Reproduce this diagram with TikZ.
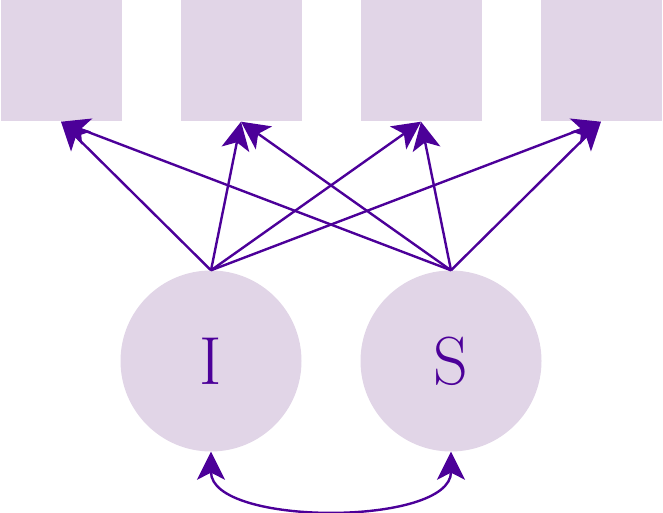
\documentclass[tikz,border=0pt]{standalone}
\usepackage{xcolor}
\usepackage{tikz}
\usetikzlibrary{arrows.meta}

\definecolor{lilac}{HTML}{E1D5E7}
\definecolor{deeppurple}{HTML}{4C0099}

\begin{document}
\begin{tikzpicture}[
    x=1pt, y=1pt,
    box/.style={fill=lilac, draw=none, inner sep=0pt,
                minimum width=121pt, minimum height=121pt},
    latent/.style={circle, fill=lilac, draw=none, inner sep=0pt,
                   minimum size=181pt, text=deeppurple,
                   font=\fontsize{68}{68}\selectfont},
    arr/.style={-{Stealth[length=28pt, width=28pt, inset=7pt]},
                line width=2.4pt, draw=deeppurple},
    covarr/.style={{Stealth[length=28pt, width=28pt, inset=7pt]}-{Stealth[length=28pt, width=28pt, inset=7pt]},
                   line width=2.4pt, draw=deeppurple},
]
\useasboundingbox (0,0) rectangle (663,513);

%% -- Indicators --------------------------------------------------------------
\node[box] (y1) at (61,  452) {};
\node[box] (y2) at (241, 452) {};
\node[box] (y3) at (421, 452) {};
\node[box] (y4) at (601, 452) {};

%% -- Growth factors ----------------------------------------------------------
\node[latent] (int)   at (211, 152) {I};
\node[latent] (slope) at (451, 152) {S};

%% -- Loadings ----------------------------------------------------------------
\draw[arr] (int.north) -- (y1.south);
\draw[arr] (int.north) -- (y2.south);
\draw[arr] (int.north) -- (y3.south);
\draw[arr] (int.north) -- (y4.south);

\draw[arr] (slope.north) -- (y1.south);
\draw[arr] (slope.north) -- (y2.south);
\draw[arr] (slope.north) -- (y3.south);
\draw[arr] (slope.north) -- (y4.south);

%% -- Covariance --------------------------------------------------------------
\draw[covarr] (int.south) to[out=-90, in=-90, looseness=0.8] (slope.south);

\end{tikzpicture}
\end{document}
